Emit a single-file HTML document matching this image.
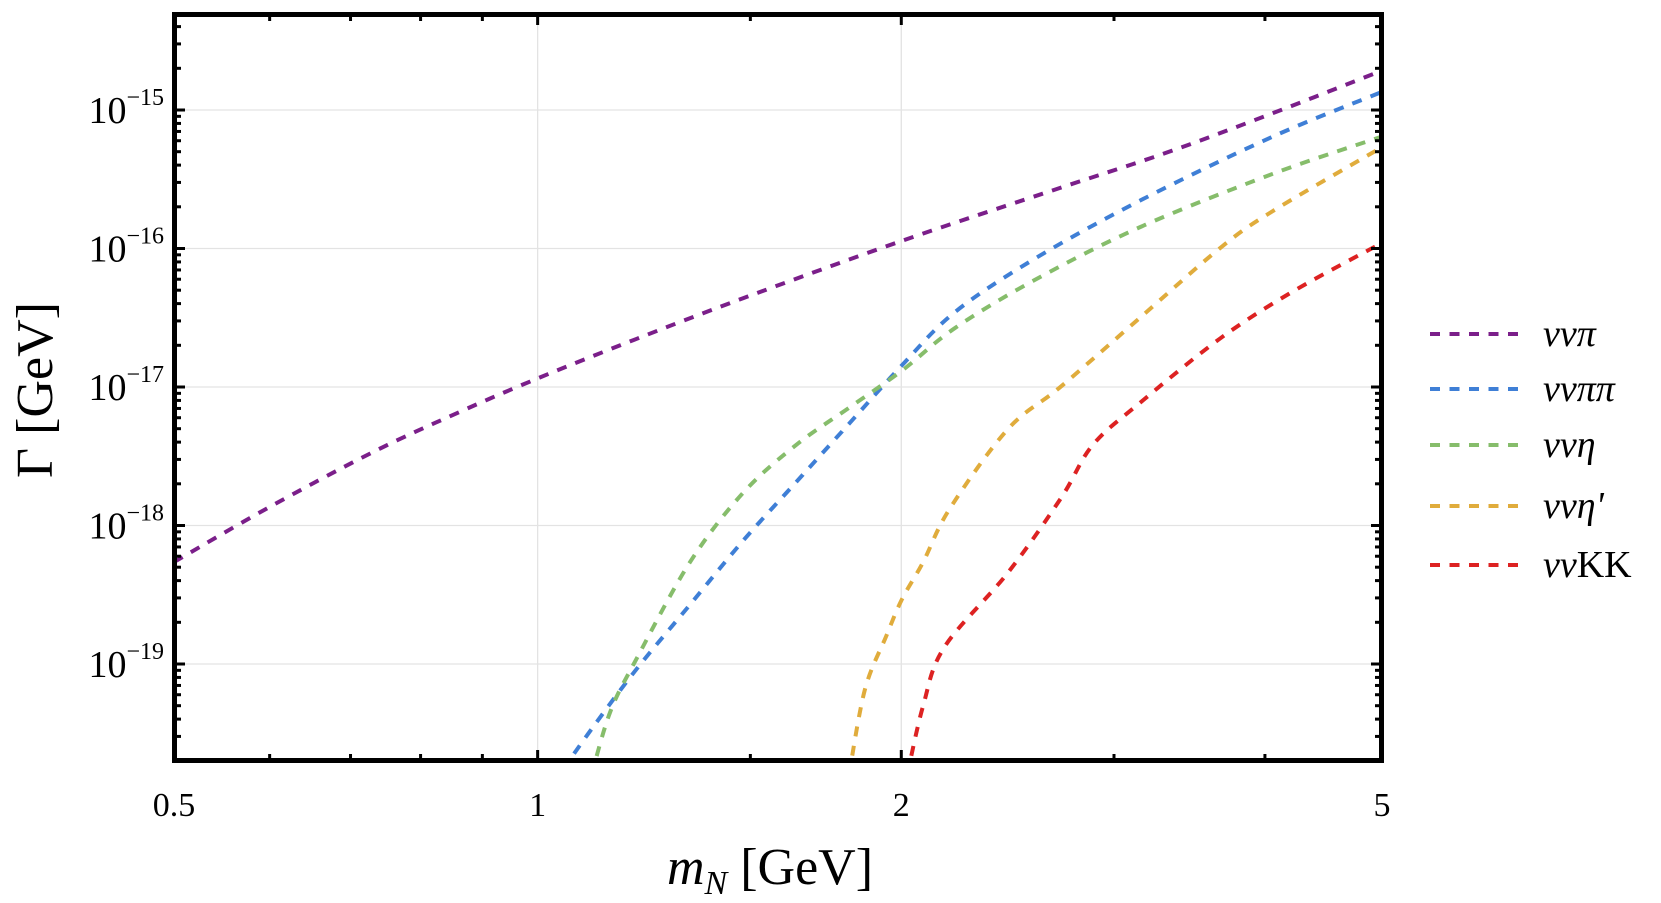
<!DOCTYPE html>
<html><head><meta charset="utf-8"><style>
html,body{margin:0;padding:0;background:#fff;}
svg{display:block;font-family:"Liberation Serif",serif;}
</style></head><body>
<svg id="s" width="1661" height="903" xmlns="http://www.w3.org/2000/svg">
<g id="grid" stroke="#e3e3e3" stroke-width="1.3"></g>
<clipPath id="c"><rect x="174" y="14" width="1208" height="747"/></clipPath>
<g id="curves" clip-path="url(#c)" fill="none" stroke-width="4" stroke-dasharray="10 9.5"></g>
<g id="ticks" stroke="#000" stroke-width="3"></g>
<rect x="174.5" y="14.5" width="1207" height="746" fill="none" stroke="#000" stroke-width="5"/>
<g id="labels" font-size="34"></g>
<text transform="translate(52,390) rotate(-90)" font-size="52" text-anchor="middle">Γ [GeV]</text>
<text x="770" y="884" font-size="52" text-anchor="middle"><tspan font-style="italic">m</tspan><tspan font-style="italic" font-size="34" dy="10">N</tspan><tspan dy="-10"> [GeV]</tspan></text>
<g font-size="38" font-style="italic">
<line x1="1430" y1="334" x2="1520" y2="334" stroke="#7b1f8a" stroke-width="4" stroke-dasharray="10 9.5"/>
<line x1="1430" y1="389" x2="1520" y2="389" stroke="#3f7fd6" stroke-width="4" stroke-dasharray="10 9.5"/>
<line x1="1430" y1="445" x2="1520" y2="445" stroke="#86bd6b" stroke-width="4" stroke-dasharray="10 9.5"/>
<line x1="1430" y1="506" x2="1520" y2="506" stroke="#e0ac3c" stroke-width="4" stroke-dasharray="10 9.5"/>
<line x1="1430" y1="565" x2="1520" y2="565" stroke="#dd2222" stroke-width="4" stroke-dasharray="10 9.5"/>
<text x="1543" y="346">ννπ</text>
<text x="1543" y="401">ννππ</text>
<text x="1543" y="457">ννη</text>
<text x="1543" y="518">ννη'</text>
<text x="1543" y="577">νν<tspan font-style="normal">KK</tspan></text>
</g>
</svg>
<script>
const NS="http://www.w3.org/2000/svg";
const L=174,R=1382,T=14,B=761;
const X=v=>L+Math.log10(v/0.5)*1208;
const Y=e=>110+(-15-e)*138.5;
function el(p,t,a){const e=document.createElementNS(NS,t);for(const k in a)e.setAttribute(k,a[k]);p.appendChild(e);return e;}
const g=document.getElementById('grid'),tk=document.getElementById('ticks'),lb=document.getElementById('labels'),cv=document.getElementById('curves');
[1,2].forEach(v=>el(g,'line',{x1:X(v),x2:X(v),y1:T,y2:B}));
for(let e=-15;e>=-19;e--)el(g,'line',{x1:L,x2:R,y1:Y(e),y2:Y(e)});
[0.5,1,2,5].forEach(v=>{const x=X(v);el(tk,'line',{x1:x,x2:x,y1:B,y2:B-11});el(tk,'line',{x1:x,x2:x,y1:T,y2:T+11});
 const t=el(lb,'text',{x:x,y:816,'text-anchor':'middle'});t.textContent=v;});
[0.6,0.7,0.8,0.9,1.5,3,4].forEach(v=>{const x=X(v);el(tk,'line',{x1:x,x2:x,y1:B,y2:B-7});el(tk,'line',{x1:x,x2:x,y1:T,y2:T+7});});
for(let e=-20;e<=-14;e++){for(let m=1;m<10;m++){const y=Y(e+Math.log10(m));if(y<T||y>B)continue;const len=m==1?11:7;
 el(tk,'line',{x1:L,x2:L+len,y1:y,y2:y});el(tk,'line',{x1:R,x2:R-len,y1:y,y2:y});}}
for(let e=-15;e>=-19;e--){const t=el(lb,'text',{x:164,y:Y(e)+13,'text-anchor':'end','font-size':38});
 t.innerHTML='10<tspan font-size="24" dy="-18">−'+(-e)+'</tspan>';}
// curves in displayed coords -> actual
const tx=x=>1.0596*x+1.3, ty=y=>1.0637*y-1.7;
function cr(pts){const P=pts.map(p=>[tx(p[0]),ty(p[1])]);let d='M'+P[0][0]+','+P[0][1];
 for(let i=0;i<P.length-1;i++){const p0=P[Math.max(0,i-1)],p1=P[i],p2=P[i+1],p3=P[Math.min(P.length-1,i+2)];
 const c1=[p1[0]+(p2[0]-p0[0])/6,p1[1]+(p2[1]-p0[1])/6],c2=[p2[0]-(p3[0]-p1[0])/6,p2[1]-(p3[1]-p1[1])/6];
 d+=' C'+c1+' '+c2+' '+p2;}return d;}
const S=[
['#7b1f8a',[[163,530],[250,480],[350,427],[430,390],[507,357],[600,320],[700,282],[850,228],[1000,178],[1100,145],[1200,108],[1303,68]]],
['#3f7fd6',[[530,725],[560,683],[600,630],[650,570],[700,510],[750,455],[800,400],[850,345],[900,295],[975,245],[1075,190],[1200,130],[1303,88]]],
['#86bd6b',[[557,730],[575,670],[600,620],[650,530],[700,465],[750,420],[800,385],[850,350],[900,310],[975,265],[1075,215],[1200,165],[1303,130]]],
['#e0ac3c',[[800,730],[815,650],[835,600],[850,565],[870,530],[895,480],[950,405],[1000,365],[1075,300],[1150,235],[1200,200],[1303,140]]],
['#dd2222',[[855,730],[870,665],[890,610],[950,540],[1000,470],[1030,420],[1075,380],[1150,320],[1220,275],[1303,230]]]];
S.forEach(s=>el(cv,'path',{d:cr(s[1]),stroke:s[0]}));
</script>
</body></html>
